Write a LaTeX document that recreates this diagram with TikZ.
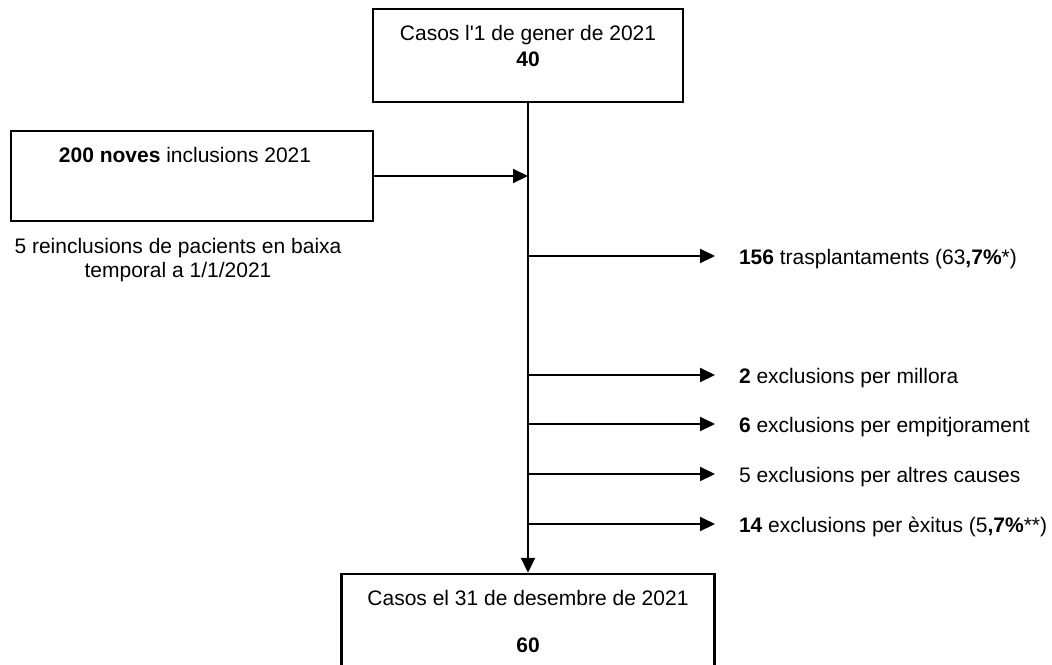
\documentclass[tikz,border=0pt]{standalone}
\usepackage{fontspec}
\setmainfont{Liberation Sans}[Ligatures=TeXOff]
\usetikzlibrary{arrows.meta, positioning}
\tikzset{
  flow arrow style/.style={
    >={Triangle[length=7.5pt, width=7pt]}, % arrow tip style
    line width=1pt,                        % default line thickness
  },
  box/.style={draw, line width=1.2pt, inner sep=0pt},
  lbl/.style={inner sep=0pt, font=\fontsize{10.5pt}{13pt}\selectfont},
}

\begin{document}
\begin{tikzpicture}[x=0.5pt, y=-0.5pt, flow arrow style]
    % Frame (pixels of the reference)
    \clip (0,0) rectangle (1052,664);

    % Boxes
    \node[box, minimum width=155pt, minimum height=46.5pt] (start) at (528,55.5) {};
    \node[box, minimum width=181pt, minimum height=45pt] (incl) at (192,176) {};
    \node[box, minimum width=186.5pt, minimum height=50pt] (final) at (528,624) {};

    % Box texts
    \node[lbl, anchor=base] (startA) at (528,40) {Casos l'1 de gener de 2021};
    \node[lbl, anchor=base] (startB) at (528,66) {\textbf{40}};
    \node[lbl, anchor=base] (inclA) at (185,162) {\textbf{200 noves} inclusions 2021};
    \node[lbl, anchor=base] (reinclA) at (178,253) {5 reinclusions de pacients en baixa};
    \node[lbl, anchor=base] (reinclB) at (178,277) {temporal a 1/1/2021};
    \node[lbl, anchor=base] (finalA) at (528,605) {Casos el 31 de desembre de 2021};
    \node[lbl, anchor=base] (finalB) at (528,652) {\textbf{60}};

    % Main trunk
    \draw[->] (start.south) -- (final.north);
    \draw[->] (incl.east) -- (incl.east -| start.south);

    % Exits
    \coordinate (b1) at (528,256); \coordinate (e1) at (715,256);
    \coordinate (b2) at (528,375); \coordinate (e2) at (715,375);
    \coordinate (b3) at (528,424); \coordinate (e3) at (715,424);
    \coordinate (b4) at (528,474); \coordinate (e4) at (715,474);
    \coordinate (b5) at (528,524); \coordinate (e5) at (715,524);
    \draw[->] (b1) -- (e1);
    \draw[->] (b2) -- (e2);
    \draw[->] (b3) -- (e3);
    \draw[->] (b4) -- (e4);
    \draw[->] (b5) -- (e5);

    \node[lbl, anchor=base west] (t1) at (738,264) {\textbf{156} trasplantaments (63\textbf{,7\%}*)};
    \node[lbl, anchor=base west] (t2) at (738,383) {\textbf{2} exclusions per millora};
    \node[lbl, anchor=base west] (t3) at (738,432) {\textbf{6} exclusions per empitjorament};
    \node[lbl, anchor=base west] (t4) at (738,482) {5 exclusions per altres causes};
    \node[lbl, anchor=base west] (t5) at (738,532) {\textbf{14} exclusions per èxitus (5\textbf{,7\%}**)};
\end{tikzpicture}
\end{document}
